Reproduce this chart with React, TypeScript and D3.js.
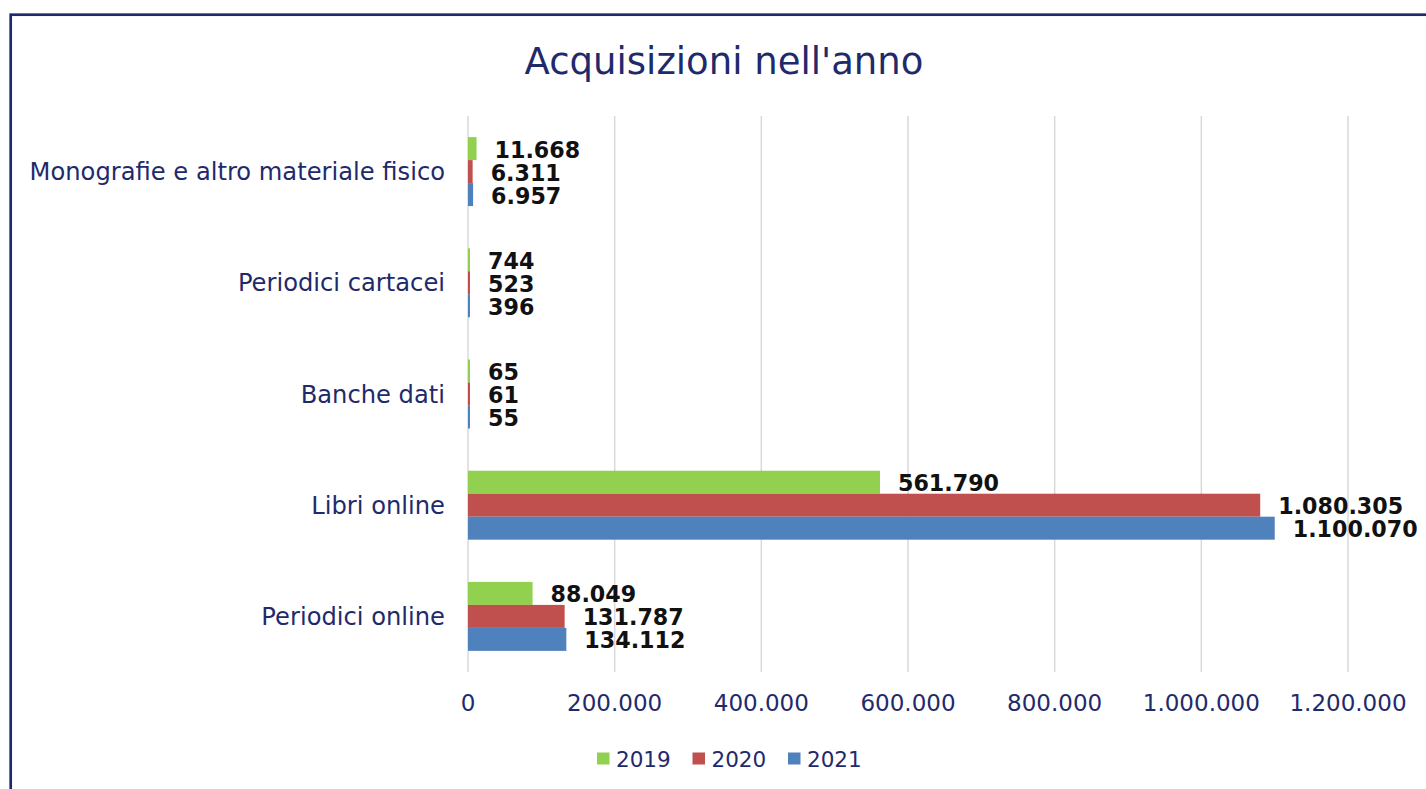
import React from 'react';
import * as d3 from 'd3';

const CATEGORIES = [
  'Monografie e altro materiale fisico',
  'Periodici cartacei',
  'Banche dati',
  'Libri online',
  'Periodici online',
];
const YEARS = ['2019', '2020', '2021'];
const V2019 = [11668, 744, 65, 561790, 88049];
const V2020 = [6311, 523, 61, 1080305, 131787];
const V2021 = [6957, 396, 55, 1100070, 134112];
const X_TICKS = [0, 200000, 400000, 600000, 800000, 1000000, 1200000];

const COLORS = ['#92d050', '#c0504d', '#4f81bd'];
const NAVY = '#1f2a6b';
const FONT = '"DejaVu Sans", Verdana, sans-serif';

const it = d3.formatLocale({ decimal: ',', thousands: '.', grouping: [3], currency: ['€', ''] });
const fmt = it.format(',d');

export default function App() {
  const W = 1426;
  const H = 789;
  const left = 468;
  const right = 1348;
  const top = 116;
  const bottom = 672;

  const series = [V2019, V2020, V2021];

  const x = d3.scaleLinear().domain([0, 1200000]).range([left, right]);
  const y = d3.scaleBand<string>().domain(CATEGORIES).range([top, bottom]).paddingInner(0.38).paddingOuter(0.19);
  const sub = d3.scaleBand<string>().domain(YEARS).range([0, y.bandwidth()]);

  const legendX = d3.scalePoint<string>().domain(YEARS).range([597, 788]);

  return (
    <svg width={W} height={H} style={{ position: 'absolute', left: 0, top: 0, background: '#fff' }}>
      <rect x={10.7} y={14.7} width={W} height={H} fill="#fff" stroke={NAVY} strokeWidth={2.7} />
      <text x={724} y={73.5} textAnchor="middle" fontFamily={FONT} fontSize={37} fill={NAVY}>
        Acquisizioni nell'anno
      </text>

      {X_TICKS.map((t) => (
        <g key={t}>
          <line x1={x(t)} x2={x(t)} y1={top} y2={bottom} stroke="#d9d9d9" strokeWidth={1.5} />
          <text x={x(t)} y={711} textAnchor="middle" fontFamily={FONT} fontSize={23} fill={NAVY}>
            {fmt(t)}
          </text>
        </g>
      ))}

      {CATEGORIES.map((c, i) => (
        <g key={c}>
          <text
            x={445}
            y={(y(c) as number) + y.bandwidth() / 2 + 8.5}
            textAnchor="end"
            fontFamily={FONT}
            fontSize={24.2}
            fill={NAVY}
          >
            {c}
          </text>
          {series.map((s, k) => {
            const by = (y(c) as number) + (sub(YEARS[k]) as number);
            const w = Math.max(x(s[i]) - x(0), 2);
            return (
              <g key={k}>
                <rect x={x(0)} y={by} width={w} height={sub.bandwidth()} fill={COLORS[k]} />
                <text
                  x={x(0) + w + 18}
                  y={by + sub.bandwidth() / 2 + 9}
                  fontFamily={FONT}
                  fontSize={22.2}
                  fontWeight="bold"
                  fill="#111"
                >
                  {fmt(s[i])}
                </text>
              </g>
            );
          })}
        </g>
      ))}

      {YEARS.map((yr, k) => (
        <g key={yr}>
          <rect x={legendX(yr)} y={752.5} width={12.5} height={12} fill={COLORS[k]} />
          <text x={(legendX(yr) as number) + 19} y={767} fontFamily={FONT} fontSize={21.5} fill={NAVY}>
            {yr}
          </text>
        </g>
      ))}
    </svg>
  );
}
